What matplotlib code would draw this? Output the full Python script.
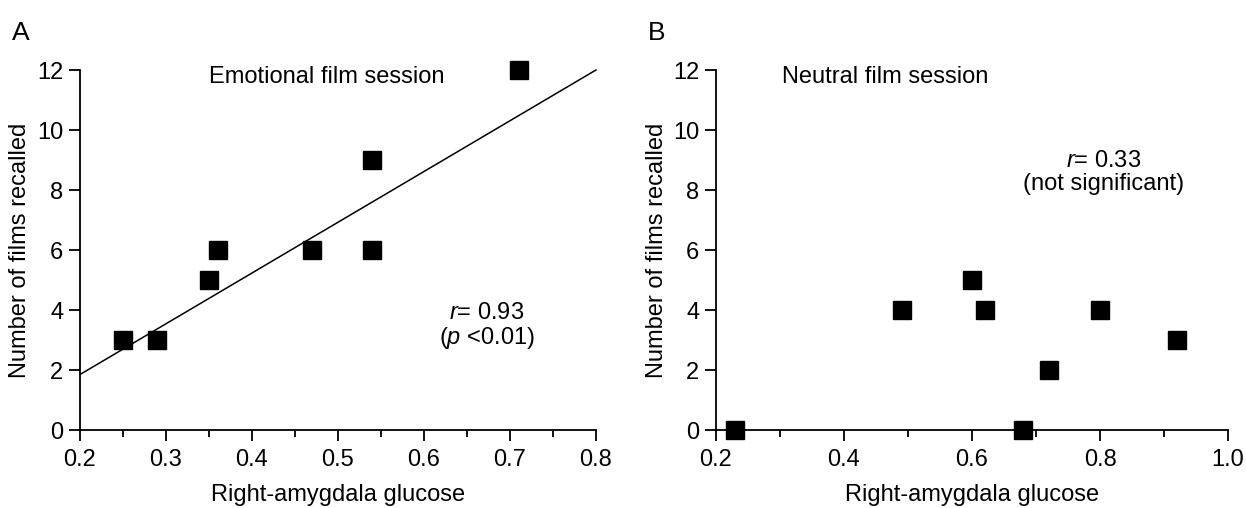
import numpy as np
import matplotlib
matplotlib.use('Agg')
import matplotlib.pyplot as plt
from matplotlib.ticker import MultipleLocator

plt.rcParams['font.family'] = ['Liberation Sans', 'DejaVu Sans']
plt.rcParams['mathtext.fontset'] = 'custom'
plt.rcParams['mathtext.rm'] = 'Liberation Sans'
plt.rcParams['mathtext.it'] = 'Liberation Sans:italic'

# panel A: emotional film session
emo_glucose = [0.25, 0.29, 0.35, 0.36, 0.47, 0.54, 0.54, 0.71]
emo_recalled = [3, 3, 5, 6, 6, 9, 6, 12]
fit_x = [0.2, 0.8]
fit_y = [1.85, 12.0]

# panel B: neutral film session
neu_glucose = [0.23, 0.49, 0.60, 0.62, 0.68, 0.72, 0.80, 0.92]
neu_recalled = [0, 4, 5, 4, 0, 2, 4, 3]

y_ticks = [0, 2, 4, 6, 8, 10, 12]
a_ticks = [0.2, 0.3, 0.4, 0.5, 0.6, 0.7, 0.8]
b_ticks = [0.2, 0.4, 0.6, 0.8, 1.0]

FS = 17

fig = plt.figure(figsize=(12.46, 5.08), dpi=100)
ax1 = fig.add_axes([0.0642, 0.1535, 0.4141, 0.7087])
ax2 = fig.add_axes([0.5746, 0.1535, 0.4110, 0.7087])


def style_axes(ax, xticks, minor_step):
    for s in ['top', 'right']:
        ax.spines[s].set_visible(False)
    for s in ['left', 'bottom']:
        ax.spines[s].set_linewidth(1.3)
    ax.set_ylim(0, 12)
    ax.set_xlim(xticks[0], xticks[-1])
    ax.set_yticks(y_ticks)
    ax.set_xticks(xticks)
    ax.xaxis.set_minor_locator(MultipleLocator(minor_step))
    ax.tick_params(axis='both', which='major', direction='out', length=8, width=1.3,
                   labelsize=FS, pad=4)
    ax.tick_params(axis='x', which='major', pad=6)
    ax.tick_params(axis='x', which='minor', direction='out', length=5, width=1.3)
    ax.set_xticklabels(['%.1f' % t for t in xticks])
    ax.set_xlabel('Right-amygdala glucose', fontsize=FS, va='center', ha='center')
    ax.set_ylabel('Number of films recalled', fontsize=FS, va='center', ha='center')
    ax.xaxis.set_label_coords(0.5, -0.181)
    ax.yaxis.set_label_coords(-0.116, 0.5)


style_axes(ax1, a_ticks, 0.05)
style_axes(ax2, b_ticks, 0.1)

ax1.plot(fit_x, fit_y, color='black', lw=1.1, clip_on=False)
ax1.plot(emo_glucose, emo_recalled, 's', color='black', ms=13, clip_on=False, zorder=5)
ax2.plot(neu_glucose, neu_recalled, 's', color='black', ms=13, clip_on=False, zorder=5)

ax1.text(0.479, 0.98, 'Emotional film session', transform=ax1.transAxes,
         ha='center', va='center', fontsize=FS)
ax2.text(0.33, 0.98, 'Neutral film session', transform=ax2.transAxes,
         ha='center', va='center', fontsize=FS)

ax1.text(0.673, 3.45, '$r$= 0.93\n($p$ <0.01)', ha='center', va='center',
         multialignment='center', linespacing=1.05, fontsize=FS)
ax2.text(0.806, 8.58, '$r$= 0.33\n(not significant)', ha='center', va='center',
         multialignment='center', linespacing=1.05, fontsize=FS)

fig.text(0.0096, 0.921, 'A', fontsize=19, va='baseline')
fig.text(0.520, 0.921, 'B', fontsize=19, va='baseline')

fig.savefig('out.png', dpi=100)
